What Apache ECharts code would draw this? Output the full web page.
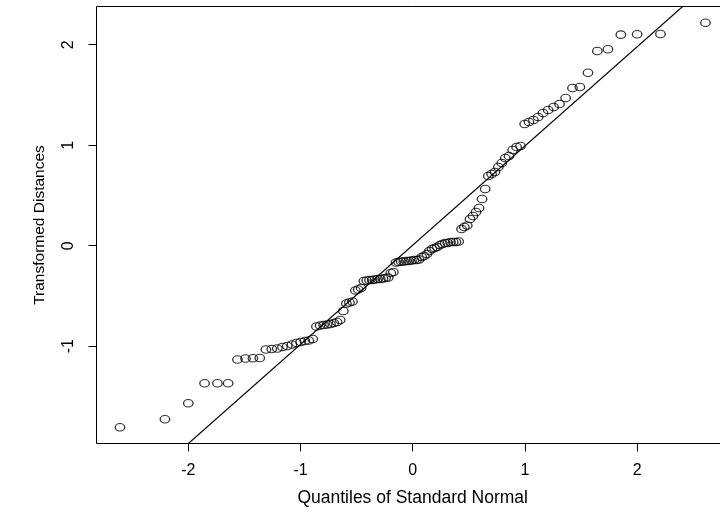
<!DOCTYPE html>
<html><head><meta charset="utf-8">
<script src="https://cdn.jsdelivr.net/npm/echarts@6/dist/echarts.min.js"></script>
<style>html,body{margin:0;padding:0;background:#fff;overflow:hidden}#c{width:760px;height:515px}</style>
</head><body><div id="c"></div>
<script>
// Theoretical standard-normal quantiles (x)
const theoreticalQuantiles = [
-2.609,-2.208,-2.000,-1.855,-1.740,-1.645,-1.562,-1.490,-1.424,-1.363,
-1.308,-1.256,-1.207,-1.161,-1.118,-1.076,-1.036,-0.998,-0.961,-0.926,
-0.891,-0.858,-0.825,-0.794,-0.763,-0.733,-0.703,-0.674,-0.646,-0.618,
-0.591,-0.564,-0.537,-0.511,-0.486,-0.460,-0.435,-0.410,-0.385,-0.361,
-0.337,-0.313,-0.289,-0.265,-0.242,-0.218,-0.195,-0.172,-0.149,-0.126,
-0.103,-0.080,-0.057,-0.034,-0.011,0.011,0.034,0.057,0.080,0.103,
0.126,0.149,0.172,0.195,0.218,0.242,0.265,0.289,0.313,0.337,
0.361,0.385,0.410,0.435,0.460,0.486,0.511,0.537,0.564,0.591,
0.618,0.646,0.674,0.703,0.733,0.763,0.794,0.825,0.858,0.891,
0.926,0.961,0.998,1.036,1.076,1.118,1.161,1.207,1.256,1.308,
1.363,1.424,1.490,1.562,1.645,1.740,1.855,2.000,2.208,2.609
];
// Sorted transformed distances (y)
const transformedDistances = [
-1.807,-1.727,-1.568,-1.369,-1.369,-1.369,-1.132,-1.122,-1.120,-1.117,
-1.033,-1.028,-1.023,-1.008,-0.998,-0.983,-0.968,-0.958,-0.948,-0.943,
-0.928,-0.804,-0.794,-0.789,-0.784,-0.779,-0.769,-0.759,-0.739,-0.650,
-0.575,-0.565,-0.555,-0.446,-0.436,-0.421,-0.351,-0.346,-0.341,-0.341,
-0.336,-0.331,-0.331,-0.326,-0.321,-0.316,-0.272,-0.262,-0.167,-0.162,
-0.157,-0.157,-0.152,-0.152,-0.147,-0.142,-0.142,-0.137,-0.112,-0.102,
-0.083,-0.053,-0.033,-0.023,-0.013,0.007,0.017,0.027,0.027,0.037,
0.037,0.037,0.042,0.166,0.186,0.201,0.266,0.296,0.335,0.375,
0.465,0.564,0.694,0.713,0.733,0.783,0.823,0.873,0.893,0.952,
0.982,0.992,1.211,1.231,1.251,1.281,1.320,1.350,1.380,1.410,
1.470,1.569,1.579,1.721,1.937,1.954,2.100,2.104,2.107,2.219
];
const xTicks = [-2, -1, 0, 1, 2];
const yTicks = [-1, 0, 1, 2];
const xRange = [-2.818, 2.818];
const yRange = [-1.968, 2.380];
const refLine = { intercept: 0.005, slope: 0.987 };
const xTitle = 'Quantiles of Standard Normal';
const yTitle = 'Transformed Distances';

const points = theoreticalQuantiles.map((q, i) => [q, transformedDistances[i]]);
const lineData = xRange.map(x => [x, refLine.intercept + refLine.slope * x]);

const font = 'Liberation Sans, Arial, Helvetica, sans-serif';
const chart = echarts.init(document.getElementById('c'), null, { renderer: 'canvas' });
chart.setOption({
  animation: false,
  backgroundColor: '#fff',
  grid: { left: 96.5, top: 6.5, width: 632.4, height: 437, containLabel: false, outerBoundsMode: 'none',
          show: true, borderColor: '#000', borderWidth: 1, backgroundColor: 'transparent' },
  xAxis: {
    type: 'value', min: xRange[0], max: xRange[1],
    name: xTitle, nameLocation: 'middle', nameGap: 46,
    nameTextStyle: { color: '#000', fontFamily: font, fontSize: 17.5 },
    axisLine: { show: false, onZero: false },
    axisTick: { show: true, length: 8, inside: false, customValues: xTicks, lineStyle: { color: '#000', width: 1 } },
    axisLabel: { show: true, customValues: xTicks, margin: 19, color: '#000', fontFamily: font, fontSize: 16 },
    splitLine: { show: false }
  },
  yAxis: {
    type: 'value', min: yRange[0], max: yRange[1],
    name: yTitle, nameLocation: 'middle', nameGap: 49, nameRotate: 90,
    nameTextStyle: { color: '#000', fontFamily: font, fontSize: 15.5 },
    axisLine: { show: false, onZero: false },
    axisTick: { show: true, length: 8, inside: false, customValues: yTicks, lineStyle: { color: '#000', width: 1 } },
    axisLabel: { show: true, customValues: yTicks, rotate: 90, margin: 20, color: '#000', fontFamily: font, fontSize: 16 },
    splitLine: { show: false }
  },
  series: [
    {
      type: 'scatter', data: points, symbol: 'circle', symbolSize: [9.5, 7.5],
      itemStyle: { color: 'rgba(0,0,0,0)', borderColor: '#000', borderWidth: 1.2 },
      emphasis: { disabled: true }, silent: true
    },
    {
      type: 'line', data: lineData, showSymbol: false, symbol: 'none', clip: true,
      lineStyle: { color: '#000', width: 1.2 }, silent: true
    }
  ]
});
</script></body></html>
